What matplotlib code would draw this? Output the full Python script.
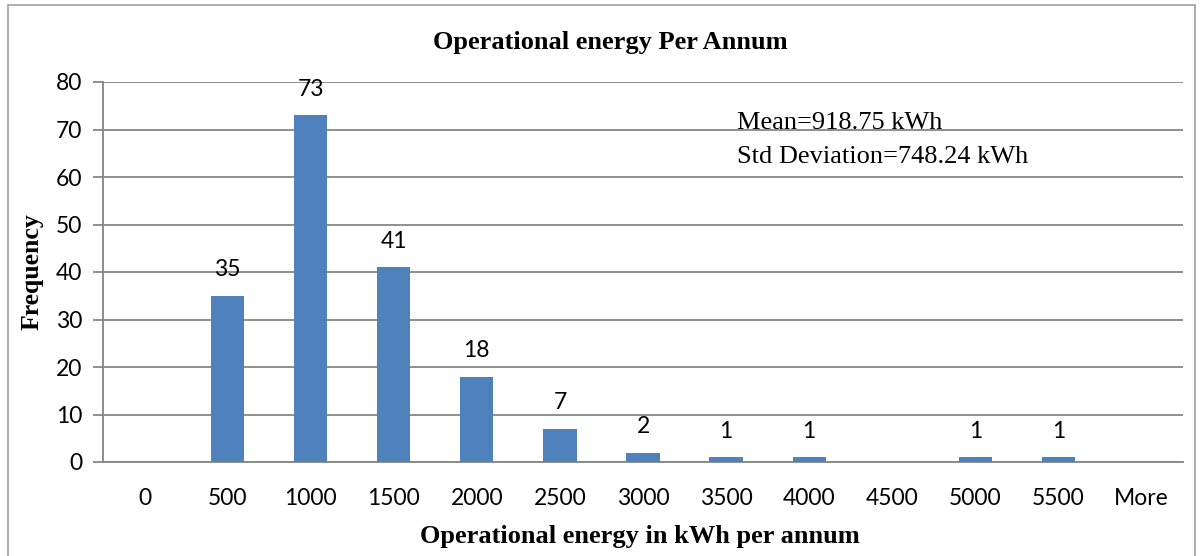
import matplotlib
matplotlib.use("Agg")
import matplotlib.pyplot as plt
from matplotlib.patches import Rectangle

categories = ["0", "500", "1000", "1500", "2000", "2500", "3000", "3500",
              "4000", "4500", "5000", "5500", "More"]
frequency = [0, 35, 73, 41, 18, 7, 2, 1, 1, 0, 1, 1, 0]

title = "Operational energy Per Annum"
xlabel = "Operational energy in kWh per annum"
ylabel = "Frequency"
stats_lines = ["Mean=918.75 kWh", "Std Deviation=748.24 kWh"]

W, H = 1200, 556
fig = plt.figure(figsize=(W / 100, H / 100), dpi=100)
ax = fig.add_axes([103 / W, 1 - 462 / H, (1183 - 103) / W, (462 - 82) / H])

sans = ["Lato", "DejaVu Sans"]
serif = ["Liberation Serif", "DejaVu Serif"]
bar_color = "#4F81BD"
grid_color = "#868686"

x = list(range(len(categories)))
bars = ax.bar(x, frequency, width=0.4, color=bar_color, zorder=3)
for xi, v in zip(x, frequency):
    if v > 0:
        ax.text(xi, v + 5.5, str(v), ha="center", va="center",
                fontsize=16.5, family=sans, color="black")

ax.set_xlim(-0.5, len(categories) - 0.5)
ax.set_ylim(0, 80)
ax.set_yticks(range(0, 81, 10))
ax.set_xticks(x)
ax.set_xticklabels(categories)
ax.yaxis.grid(True, color=grid_color, linewidth=1.3, zorder=0)
ax.set_axisbelow(True)
for s in ["top", "right"]:
    ax.spines[s].set_visible(False)
ax.spines["left"].set_color(grid_color)
ax.spines["bottom"].set_color(grid_color)
ax.spines["left"].set_linewidth(1.3)
ax.spines["bottom"].set_linewidth(1.3)
ax.tick_params(axis="y", length=7, color=grid_color, width=1.3, pad=8,
               labelsize=16.5)
ax.tick_params(axis="x", length=0, pad=19, labelsize=16.5)
for lab in ax.get_xticklabels() + ax.get_yticklabels():
    lab.set_family(sans)

fig.text(610 / W, 1 - 42 / H, title, ha="center", va="center",
         fontsize=19, fontweight="bold", family=serif)
fig.text(640 / W, 1 - 537 / H, xlabel, ha="center", va="center",
         fontsize=19, fontweight="bold", family=serif)
fig.text(32 / W, 1 - 272 / H, ylabel, ha="center", va="center",
         rotation=90, fontsize=18.5, fontweight="bold", family=serif)
for i, line in enumerate(stats_lines):
    fig.text(737 / W, 1 - (123 + 34 * i) / H, line, ha="left", va="center",
             fontsize=19, family=serif)

fig.patches.append(Rectangle((8 / W, -0.1), (1195 - 8) / W, 1 - 5 / H + 0.1,
                             transform=fig.transFigure, fill=False,
                             edgecolor="#A0A0A0", linewidth=1.2))

fig.savefig("out.png", dpi=100)
